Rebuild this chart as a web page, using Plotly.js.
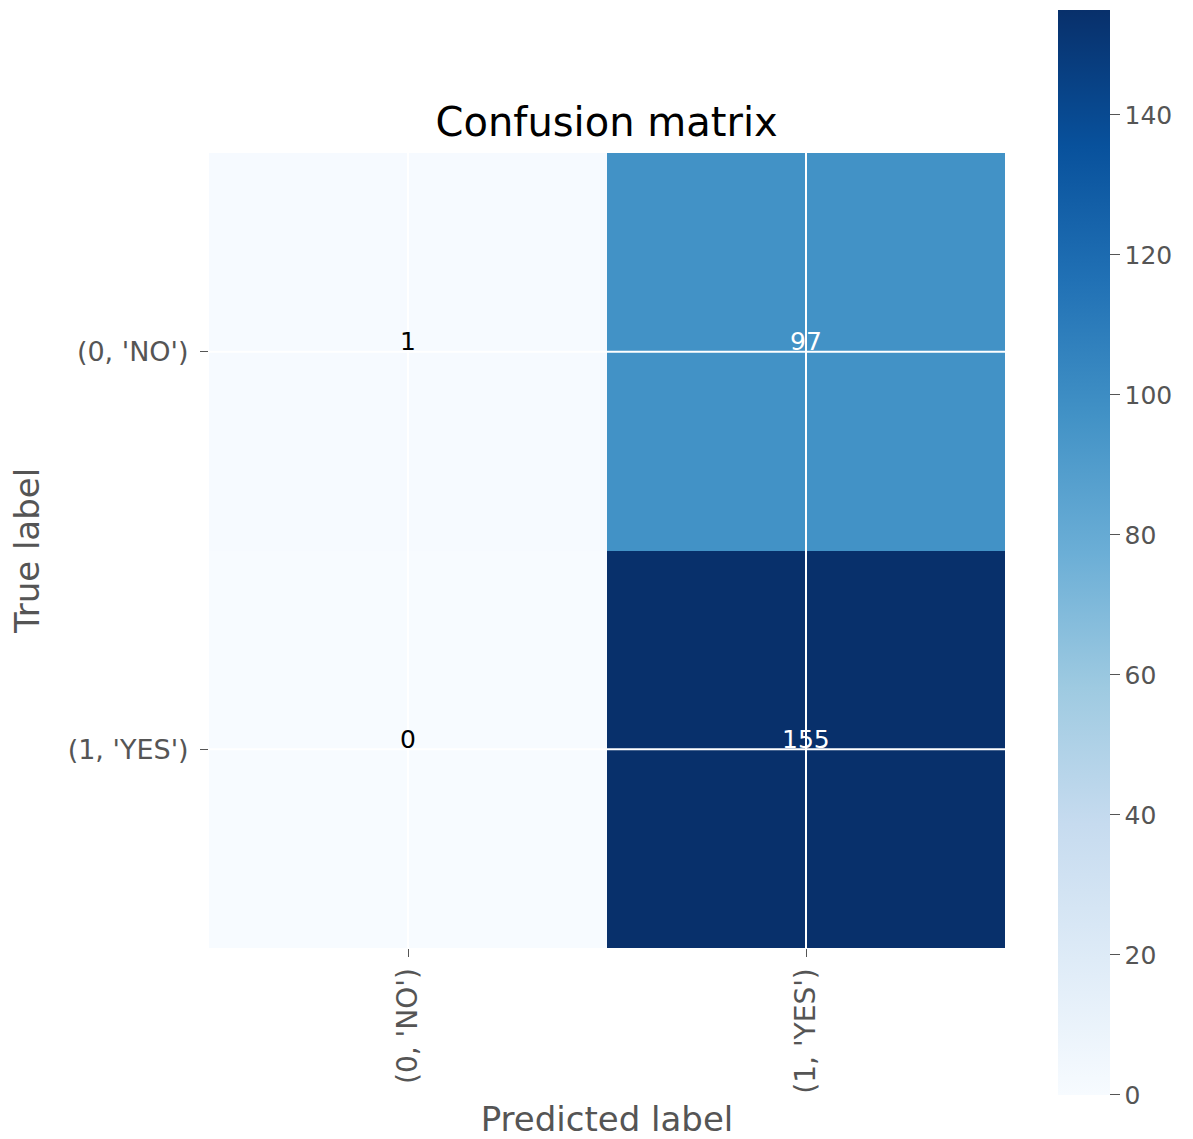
<!DOCTYPE html>
<html>
<head>
<meta charset="utf-8">
<script src="https://cdn.plot.ly/plotly-3.0.1.min.js"></script>
<style>html,body{margin:0;padding:0;background:#fff;}#chart{width:1193px;height:1139px;}</style>
</head>
<body>
<div id="chart"></div>
<script>
const predictedLabels = ["(0, 'NO')", "(1, 'YES')"];
const trueLabels = ["(0, 'NO')", "(1, 'YES')"];
const counts = [
  [1, 97],
  [0, 155]
];
const colorbarTicks = [0, 20, 40, 60, 80, 100, 120, 140];

const blues = [
  [0, '#f7fbff'], [0.125, '#deebf7'], [0.25, '#c6dbef'], [0.375, '#9ecae1'],
  [0.5, '#6baed6'], [0.625, '#4292c6'], [0.75, '#2171b5'], [0.875, '#08519c'], [1, '#08306b']
];

const xIdx = predictedLabels.map((_, i) => i);
const yIdx = trueLabels.map((_, i) => i);
const zmax = Math.max(...counts.flat());
const zmin = Math.min(...counts.flat());
const thresh = zmax / 2;

const annotations = [];
counts.forEach((row, r) => row.forEach((v, c) => {
  annotations.push({
    x: xIdx[c], y: yIdx[r], xref: 'x', yref: 'y', text: String(v), showarrow: false,
    yshift: 10,
    font: {family: 'DejaVu Sans', size: 25, color: v > thresh ? '#ffffff' : '#000000'}
  });
}));

const shapes = [];
xIdx.forEach(i => shapes.push({type: 'line', xref: 'x', yref: 'paper', x0: i, x1: i, y0: 0, y1: 1, line: {color: '#ffffff', width: 2}, layer: 'above'}));
yIdx.forEach(i => shapes.push({type: 'line', xref: 'paper', yref: 'y', x0: 0, x1: 1, y0: i, y1: i, line: {color: '#ffffff', width: 2}, layer: 'above'}));

const trace = {
  type: 'heatmap',
  x: xIdx, y: yIdx, z: counts,
  colorscale: blues, zmin: zmin, zmax: zmax,
  showscale: true,
  hoverinfo: 'skip',
  colorbar: {
    x: 1.066, xanchor: 'left', xpad: 0,
    y: 0.4975, yanchor: 'middle', ypad: 0,
    thickness: 52, thicknessmode: 'pixels',
    len: 1085, lenmode: 'pixels',
    outlinewidth: 0,
    tickvals: colorbarTicks,
    tickprefix: '\u2002',
    ticks: 'outside', ticklen: 10, tickcolor: '#555555', tickwidth: 1,
    tickfont: {family: 'DejaVu Sans', size: 25, color: '#555555'}
  }
};

const layout = {
  width: 1193, height: 1139,
  margin: {l: 209, r: 188, t: 153, b: 191},
  paper_bgcolor: '#ffffff', plot_bgcolor: '#ffffff',
  title: {text: 'Confusion matrix', x: 0.5085, xanchor: 'center', y: 0.893, yanchor: 'middle',
          font: {family: 'DejaVu Sans', size: 40, color: '#000000'}},
  xaxis: {
    range: [-0.5, 1.5], tickvals: xIdx, ticktext: predictedLabels, tickangle: -90,
    showgrid: false, zeroline: false, showline: false,
    ticks: 'outside', ticklen: 8, tickcolor: '#555555', ticklabelstandoff: 0,
    tickfont: {family: 'DejaVu Sans', size: 28, color: '#555555'},
    title: {text: 'Predicted label', standoff: 14, font: {family: 'DejaVu Sans', size: 34, color: '#555555'}}
  },
  yaxis: {
    range: [1.5, -0.5], tickvals: yIdx, ticktext: trueLabels,
    showgrid: false, zeroline: false, showline: false,
    ticks: 'outside', ticklen: 8, tickcolor: '#555555', ticklabelstandoff: 6,
    tickfont: {family: 'DejaVu Sans', size: 27, color: '#555555'},
    title: {text: 'True label', standoff: 17, font: {family: 'DejaVu Sans', size: 34, color: '#555555'}}
  },
  annotations: annotations,
  shapes: shapes,
  font: {family: 'DejaVu Sans'}
};

Plotly.newPlot('chart', [trace], layout, {displayModeBar: false, staticPlot: true});
</script>
</body>
</html>
